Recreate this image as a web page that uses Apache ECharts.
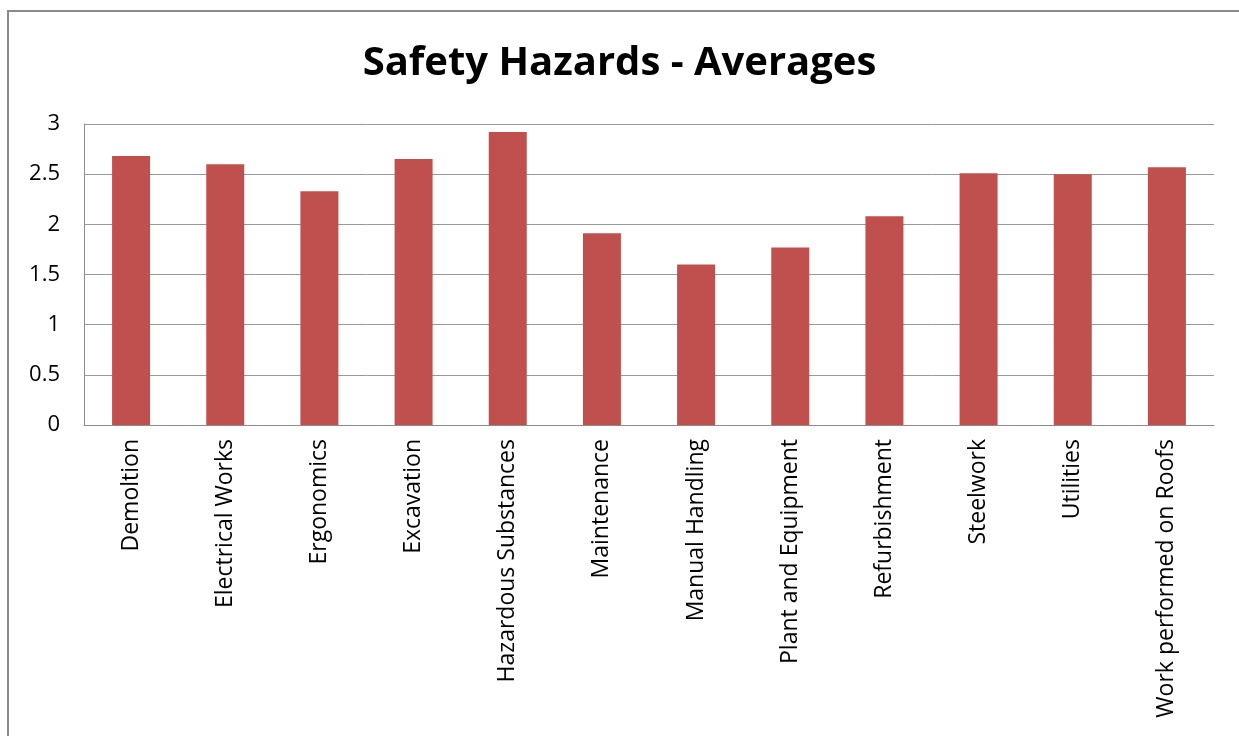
<!DOCTYPE html>
<html>
<head>
<meta charset="utf-8">
<script src="https://cdn.jsdelivr.net/npm/echarts@6/dist/echarts.min.js"></script>
<style>
html,body{margin:0;padding:0;background:#fff;}
#frame{position:absolute;left:7px;top:10px;width:1300px;height:800px;border-top:2px solid #8a8a8a;border-left:2px solid #8a8a8a;}
#chart{position:absolute;left:0;top:0;width:1239px;height:736px;}
</style>
</head>
<body>
<div id="frame"></div>
<div id="chart"></div>
<script>
const titleText = "Safety Hazards - Averages";
const categories = ["Demoltion","Electrical Works","Ergonomics","Excavation","Hazardous Substances","Maintenance","Manual Handling","Plant and Equipment","Refurbishment","Steelwork","Utilities","Work performed on Roofs"];
const averages = [2.68, 2.60, 2.33, 2.65, 2.92, 1.91, 1.60, 1.77, 2.08, 2.51, 2.50, 2.57];
const yTicks = [0, 0.5, 1, 1.5, 2, 2.5, 3];

const chart = echarts.init(document.getElementById('chart'), null, {renderer:'canvas'});
chart.setOption({
  animation:false,
  backgroundColor:'transparent',
  title:{
    text:titleText, left:'center', top:39,
    textStyle:{fontFamily:'Open Sans', fontWeight:'bold', fontSize:40, color:'#000'}
  },
  grid:{left:84, right:25, top:124, bottom:311, containLabel:false},
  xAxis:{
    type:'category', data:categories,
    axisLine:{lineStyle:{color:'#8c8c8c', width:1}},
    axisTick:{show:false},
    axisLabel:{rotate:90, interval:0, fontFamily:'Open Sans', fontSize:23, color:'#000', margin:14}
  },
  yAxis:{
    type:'value', min:0, max:yTicks[yTicks.length-1], interval:0.5,
    axisLine:{show:true, lineStyle:{color:'#8c8c8c'}},
    axisTick:{show:false},
    splitLine:{lineStyle:{color:'#999', width:1}},
    axisLabel:{fontFamily:'Open Sans', fontSize:22, color:'#000', margin:24}
  },
  series:[{
    type:'bar', data:averages, barWidth:38,
    itemStyle:{color:'#c0504d'}
  }]
});
</script>
</body>
</html>
